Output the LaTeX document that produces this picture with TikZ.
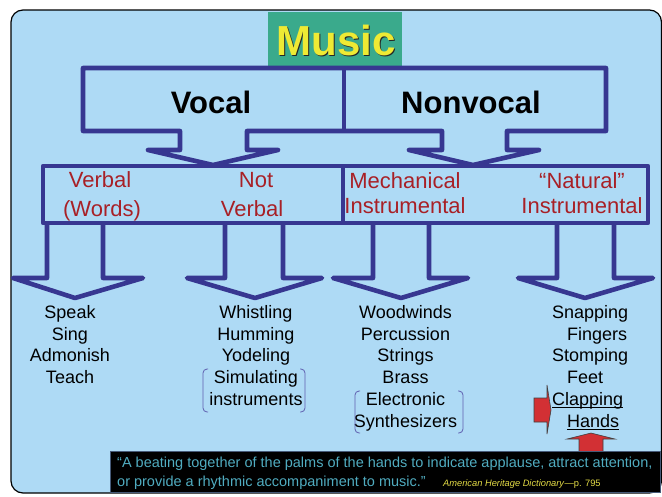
\documentclass[tikz,border=0pt]{standalone}
\usepackage{fontspec}
\setmainfont{Liberation Sans}
\usepackage{tikz}

\definecolor{bgblue}{RGB}{174,218,245}
\definecolor{navy}{RGB}{55,55,145}
\definecolor{musicgreen}{RGB}{58,170,140}
\definecolor{musicyellow}{RGB}{238,234,52}
\definecolor{labred}{RGB}{168,32,38}
\definecolor{brakblue}{RGB}{95,95,175}
\definecolor{clapred}{RGB}{210,48,52}
\definecolor{quoteteal}{RGB}{80,172,192}
\definecolor{srcyellow}{RGB}{228,220,70}
\definecolor{boxedge}{RGB}{70,90,120}

\begin{document}
\begin{tikzpicture}[x=1pt,y=-1pt,
  frame/.style={draw=navy,line width=4.6pt,line join=round},
  head/.style={font=\bfseries\fontsize{31}{31}\selectfont,inner sep=0pt,anchor=base},
  kind/.style={text=labred,font=\fontsize{22}{22}\selectfont,inner sep=0pt,anchor=base},
  item/.style={font=\fontsize{18}{18}\selectfont,inner sep=0pt,anchor=base},
  quote/.style={anchor=base west,inner sep=0pt,text=quoteteal,font=\fontsize{14.5}{14.5}\selectfont},
  brak/.style={draw=brakblue,line width=0.8pt,rounded corners=4pt},
  pointer/.style={fill=clapred,draw=black!75,line width=0.6pt,line join=miter}]

  \useasboundingbox (0,0) rectangle (662,496);
  \draw[fill=bgblue,line width=1.2pt,rounded corners=12pt] (11,10) rectangle (661.5,493);

  % title
  \fill[musicgreen] (268,12) rectangle (402,68);
  \node[head,font=\bfseries\fontsize{42}{42}\selectfont,text=black!85] (musicshadow) at (337.5,56.5) {Music};
  \node[head,font=\bfseries\fontsize{42}{42}\selectfont,text=musicyellow] (music) at (336,55) {Music};

  % first level
  \draw[frame] (83,68) -| (606,131) -| (507,150) -- (539,150) -- (473,165) -- (409,150) -- (442,150)
    |- (247,131) -- (247,150) -- (278,150) -- (213,165) -- (148,150) -- (180,150) |- (83,131) -- cycle;
  \draw[frame] (344,68) -- (344,131);
  \node[head] (vocal) at (211,113) {Vocal};
  \node[head] (nonvocal) at (471,113) {Nonvocal};

  % second level
  \draw[frame] (43,166) rectangle (648,223);
  \draw[frame] (343,166) -- (343,223);
  \foreach \sl/\sr/\wl/\wr/\tip in {47/103/13/143/75, 225/283/187/322/255, 373/429/333/468/401, 557/614/518/653/585}
    \draw[frame] (\sl,223) -- (\sl,278) -- (\wl,278) -- (\tip,298) -- (\wr,278) -- (\sr,278) -- (\sr,223);
  \foreach \t/\x/\y/\n in {Verbal/100/187/verbal, {(Words)}/102/216/words, Not/256/187/not,
      Verbal/252/216/notverbal, Mechanical/405/188/mech, Instrumental/405/213/mechinst,
      “Natural”/582/188/natural, Instrumental/582/213/natinst}
    \node[kind] (\n) at (\x,\y) {\t};

  % lists
  \foreach \t [count=\i] in {Speak,Sing,Admonish,Teach}
    \node[item] (speak\i) at (70,{296.8+21.7*\i}) {\t};
  \foreach \t [count=\i] in {Whistling,Humming,Yodeling,Simulating,instruments}
    \node[item] (whistle\i) at (256,{296.8+21.7*\i}) {\t};
  \foreach \t [count=\i] in {Woodwinds,Percussion,Strings,Brass,Electronic,Synthesizers}
    \node[item] (wood\i) at (405.5,{296.8+21.7*\i}) {\t};
  \foreach \t/\x [count=\i] in {Snapping/552,Fingers/567,Stomping/552,Feet/567,Clapping/552,Hands/567}
    \node[item,anchor=base west] (snap\i) at (\x,{296.8+21.7*\i}) {\t};
  \foreach \i in {5,6}
    \draw[line width=1pt] ([yshift=-2.5pt]snap\i.base west) -- ([yshift=-2.5pt]snap\i.base east);

  \draw[brak] (208,369) -| (203,412) -- (208,412);
  \draw[brak] (300,369) -| (305,412) -- (300,412);
  \draw[brak] (360,391) -| (355,433) -- (360,433);
  \draw[brak] (458,391) -| (463,433) -- (458,433);

  \draw[pointer] (534,398) -- (547,398) -- (547,385) -- (551,410) -- (547,434) -- (547,422) -- (534,422) -- cycle;
  \draw[pointer] (579,452) -- (579,439) -- (567,439) -- (591,433) -- (615,439) -- (603,439) -- (603,452);

  % quote
  \draw[fill=black,draw=boxedge,line width=0.8pt] (110,451) rectangle (660,492);
  \node[quote] (quote1) at (117,467.5)
    {“A beating together of the palms of the hands to indicate applause, attract attention,};
  \node[quote] (quote2) at (117,486.7) {or provide a rhythmic accompaniment to music.”};
  \node[anchor=base west,inner sep=0pt,text=srcyellow,font=\fontsize{9.3}{9.3}\selectfont] (source) at (443,486.7)
    {\textit{American Heritage Dictionary}—p. 795};
\end{tikzpicture}
\end{document}
